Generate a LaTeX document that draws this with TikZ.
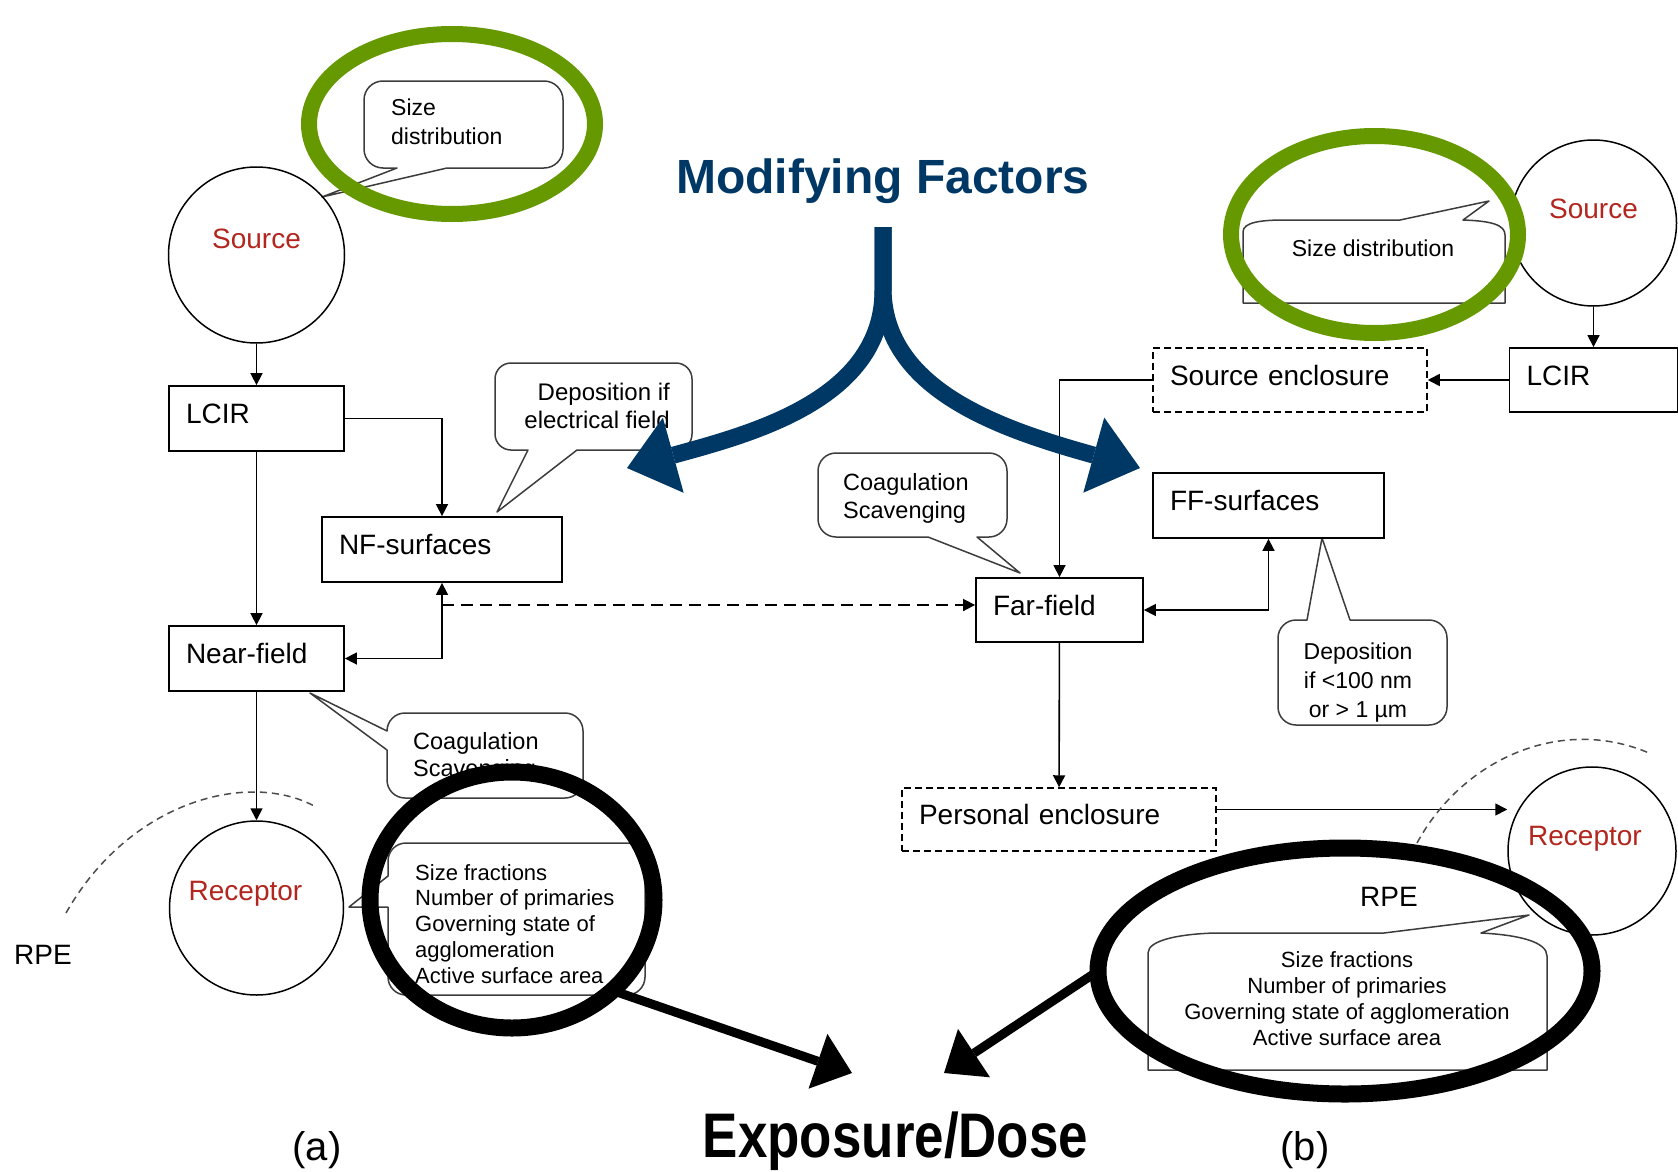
\documentclass[tikz,border=0pt]{standalone}
\usepackage{fontspec}
\setmainfont{Liberation Sans}
\usepackage{graphicx}
\usetikzlibrary{arrows.meta,shapes.geometric,calc}

\definecolor{navy}{RGB}{0,56,101}
\definecolor{leaf}{RGB}{102,153,0}
\definecolor{srcred}{RGB}{178,38,30}
\definecolor{outl}{RGB}{60,60,60}

% rounded callout outline: r, x1, y1, x2, y2, bottom insert, top insert, left insert
\newcommand\mycallout[8]{({#2+#1},#5) #6 -- ({#4-#1},#5) arc[start angle=-90,end angle=0,radius=#1pt] -- (#4,{#3+#1}) arc[start angle=0,end angle=90,radius=#1pt] #7 -- ({#2+#1},#3) arc[start angle=90,end angle=180,radius=#1pt] #8 -- (#2,{#5-#1}) arc[start angle=180,end angle=270,radius=#1pt] -- cycle}

\begin{document}
\begin{tikzpicture}[x=1pt,y=-1pt,
  box/.style={draw, line width=1.8pt, rectangle, minimum height=65pt, inner xsep=17pt, align=left,
    text height=20pt, text depth=10pt, font=\fontsize{28}{34}\selectfont},
  dbox/.style={box, dash pattern=on 7pt off 4pt, line width=1.5pt},
  circ/.style={draw, circle, line width=1.5pt, inner sep=0pt},
  clbl/.style={text=srcred, font=\fontsize{28}{34}\selectfont, text height=20pt, text depth=0pt, inner sep=0pt},
  conn/.style={line width=1.6pt, -{Triangle[length=12pt,width=12pt]}},
  conn2/.style={line width=1.6pt, {Triangle[length=12pt,width=12pt]}-{Triangle[length=12pt,width=12pt]}},
  callout/.style={draw=outl, fill=white, line width=1.5pt, line join=round},
  ctext/.style={font=\fontsize{22}{27}\selectfont, inner sep=0pt},
  plain/.style={font=\fontsize{28}{34}\selectfont},
  rpe/.style={dash pattern=on 7pt off 5pt, line width=1.5pt, draw=black!70},
  ring/.style={ellipse, draw, inner sep=0pt, outer sep=0pt},
  bigarrow/.style={draw=navy, line width=17pt, -{Triangle[length=48pt,width=78pt,line width=0pt]}},
  blkarrow/.style={draw=black, line width=9pt, -{Triangle[length=36pt,width=58pt,line width=0pt]}}
]
\useasboundingbox (0,0) rectangle (1678,1172);
\fill[white] (0,0) rectangle (1678,1172);

% ---------- callouts ----------
\draw[callout] \mycallout{19}{364}{81}{563}{168}{-- (397,168) -- (322,197) -- (447,168)}{}{};
\draw[callout] \mycallout{16}{495}{363}{692}{450}{-- (528,450) -- (497,512) -- (577,450)}{}{};
\draw[callout] \mycallout{18}{818}{453}{1007}{537}{-- (928,537) -- (1020,573) -- (977,537)}{}{};
\draw[callout] \mycallout{18}{387}{713}{583}{798}{}{}{-- (387,731) -- (310,693) -- (387,750)};
\draw[callout] \mycallout{18}{1278}{620}{1447}{725}{}{-- (1350,620) -- (1322,538) -- (1307,620)}{};
\draw[callout] \mycallout{18}{388}{843}{645}{995}{}{}{-- (388,876) -- (349,907) -- (388,907)};
\draw[callout] (1243,303) -- (1243,232) .. controls (1243,222) and (1262,220) .. (1285,220) -- (1400,220) -- (1489,201) -- (1463,220) .. controls (1492,221) and (1505,225) .. (1505,235) -- (1505,303) -- cycle;
\draw[callout] (1148,1070) -- (1148,953) .. controls (1148,940) and (1180,934) .. (1215,933) -- (1384,933) -- (1529,915) -- (1481,933) .. controls (1520,935) and (1547,942) .. (1547,956) -- (1547,1070) -- cycle;

\node[ctext, font=\fontsize{23}{29}\selectfont, anchor=north west, align=left] (t1) at (391,99) {Size\\distribution};
\node[ctext, font=\fontsize{24}{28}\selectfont, anchor=north east, align=right] (t2) at (670,383) {Deposition if\\electrical field};
\node[ctext, font=\fontsize{23.5}{28}\selectfont, anchor=north west, align=left] (t3) at (843,473) {Coagulation\\Scavenging};
\node[ctext, font=\fontsize{23.5}{27}\selectfont, anchor=north west, align=left] (t4) at (413,732) {Coagulation\\Scavenging};
\node[ctext, font=\fontsize{23}{29}\selectfont, anchor=north, align=center] (t5) at (1358,643) {Deposition\\if <100 nm\\or > 1 µm};
\node[ctext, font=\fontsize{22}{25.75}\selectfont, anchor=north west, align=left] (t6) at (415,864) {Size fractions\\Number of primaries\\Governing state of\\agglomeration\\Active surface area};
\node[ctext, font=\fontsize{23}{29}\selectfont] (t7) at (1373,248) {Size distribution};
\node[ctext, font=\fontsize{22}{26}\selectfont, anchor=north, align=center] (t8) at (1347,951) {Size fractions\\Number of primaries\\Governing state of agglomeration\\Active surface area};

% ---------- boxes ----------
\node[box, text width=141pt] (lcirL) at (256.5,418.5) {LCIR};
\node[box, text width=206pt] (nfs) at (442,549.5) {NF-surfaces};
\node[box, text width=141pt] (nearfield) at (256.5,658.5) {Near-field};
\node[box, text width=133pt, minimum height=64pt] (farfield) at (1059.5,610) {Far-field};
\node[box, text width=197pt] (ffs) at (1268.5,505.5) {FF-surfaces};
\node[dbox, text width=240pt, minimum height=64pt] (srcenc) at (1290,380) {Source enclosure};
\node[box, text width=134pt, minimum height=64pt] (lcirR) at (1593.5,380) {LCIR};
\node[dbox, text width=280pt, minimum height=63pt] (persenc) at (1059,819.5) {Personal enclosure};

% ---------- circles ----------
\node[circ, minimum size=176pt, label={[clbl,yshift=17pt]center:Source}] (sourceL) at (256.5,255) {};
\node[circ, minimum size=174pt, label={[clbl,xshift=-11pt,yshift=18pt]center:Receptor}] (receptorL) at (256.5,908) {};
\node[circ, minimum size=166pt, label={[clbl,yshift=15pt]center:Source}] (sourceR) at (1593.5,223) {};
\node[circ, minimum size=168pt, label={[clbl,xshift=-7pt,yshift=16pt]center:Receptor}] (receptorR) at (1592,851) {};

% ---------- connectors ----------
\draw[conn] (sourceL) -- (lcirL);
\draw[conn] (lcirL) -- (nearfield);
\draw[conn] (lcirL.east) -| (nfs.north);
\draw[conn2] (nearfield.east) -| (nfs.south);
\coordinate (dstart) at (442,605);
\draw[conn, dash pattern=on 12pt off 7pt] (dstart) -- (dstart -| farfield.west);
\draw[conn] (nearfield) -- (receptorL);
\draw[conn] (sourceR) -- (lcirR);
\draw[conn] (lcirR) -- (srcenc);
\draw[conn] (srcenc.west) -| (farfield.north);
\draw[conn2] (farfield.east) -| (ffs.south);
\draw[conn] (farfield) -- (persenc);
\draw[conn] ([yshift=10pt]persenc.east) -- ([yshift=10pt]persenc.east -| receptorR.west);

% ---------- RPE ----------
\draw[rpe] (66,913) .. controls (130,800) and (250,770) .. (316,807);
\draw[rpe] (1417,843) .. controls (1462,760) and (1560,715) .. (1649,753);
\node[plain] (rpeL) at (43,955) {RPE};
\node[plain] (rpeR) at (1389,897) {RPE};

% ---------- highlight rings ----------
\node[ring, draw=leaf, line width=16pt, minimum width=286pt, minimum height=180pt] (ringGL) at (452,124) {};
\node[ring, draw=leaf, line width=16pt, minimum width=287pt, minimum height=197pt] (ringGR) at (1374.5,234.5) {};
\node[ring, draw=black, line width=17pt, minimum width=284pt, minimum height=256pt] (ringBL) at (512,900) {};
\node[ring, draw=black, line width=17pt, minimum width=494pt, minimum height=246pt] (ringBR) at (1345,971) {};

% ---------- titles and big arrows ----------
\node[font=\bfseries\fontsize{48}{56}\selectfont, text=navy, anchor=base] (mf) at (883,193) {Modifying Factors};
\coordinate (ytop) at (883,227);
\coordinate (tipL) at (627,468);
\coordinate (tipR) at (1140,468);
\draw[bigarrow] (ytop) -- (883,290) .. controls (883,400) and (750,434) .. (tipL);
\draw[bigarrow] (ytop) -- (883,290) .. controls (885,390) and (1000,429) .. (tipR);

\node[font=\bfseries\fontsize{63}{70}\selectfont, anchor=base] (expo) at (895.5,1157) {\scalebox{0.84}[1]{Exposure/Dose}};
\coordinate (tipEL) at (852,1073);
\coordinate (tipER) at (944,1073);
\draw[blkarrow] (ringBL.-42) -- (tipEL);
\draw[blkarrow] (ringBR.west) -- (tipER);

\node[font=\fontsize{40}{48}\selectfont] (la) at (317,1150) {(a)};
\node[font=\fontsize{40}{48}\selectfont] (lb) at (1305,1150) {(b)};
\end{tikzpicture}
\end{document}
